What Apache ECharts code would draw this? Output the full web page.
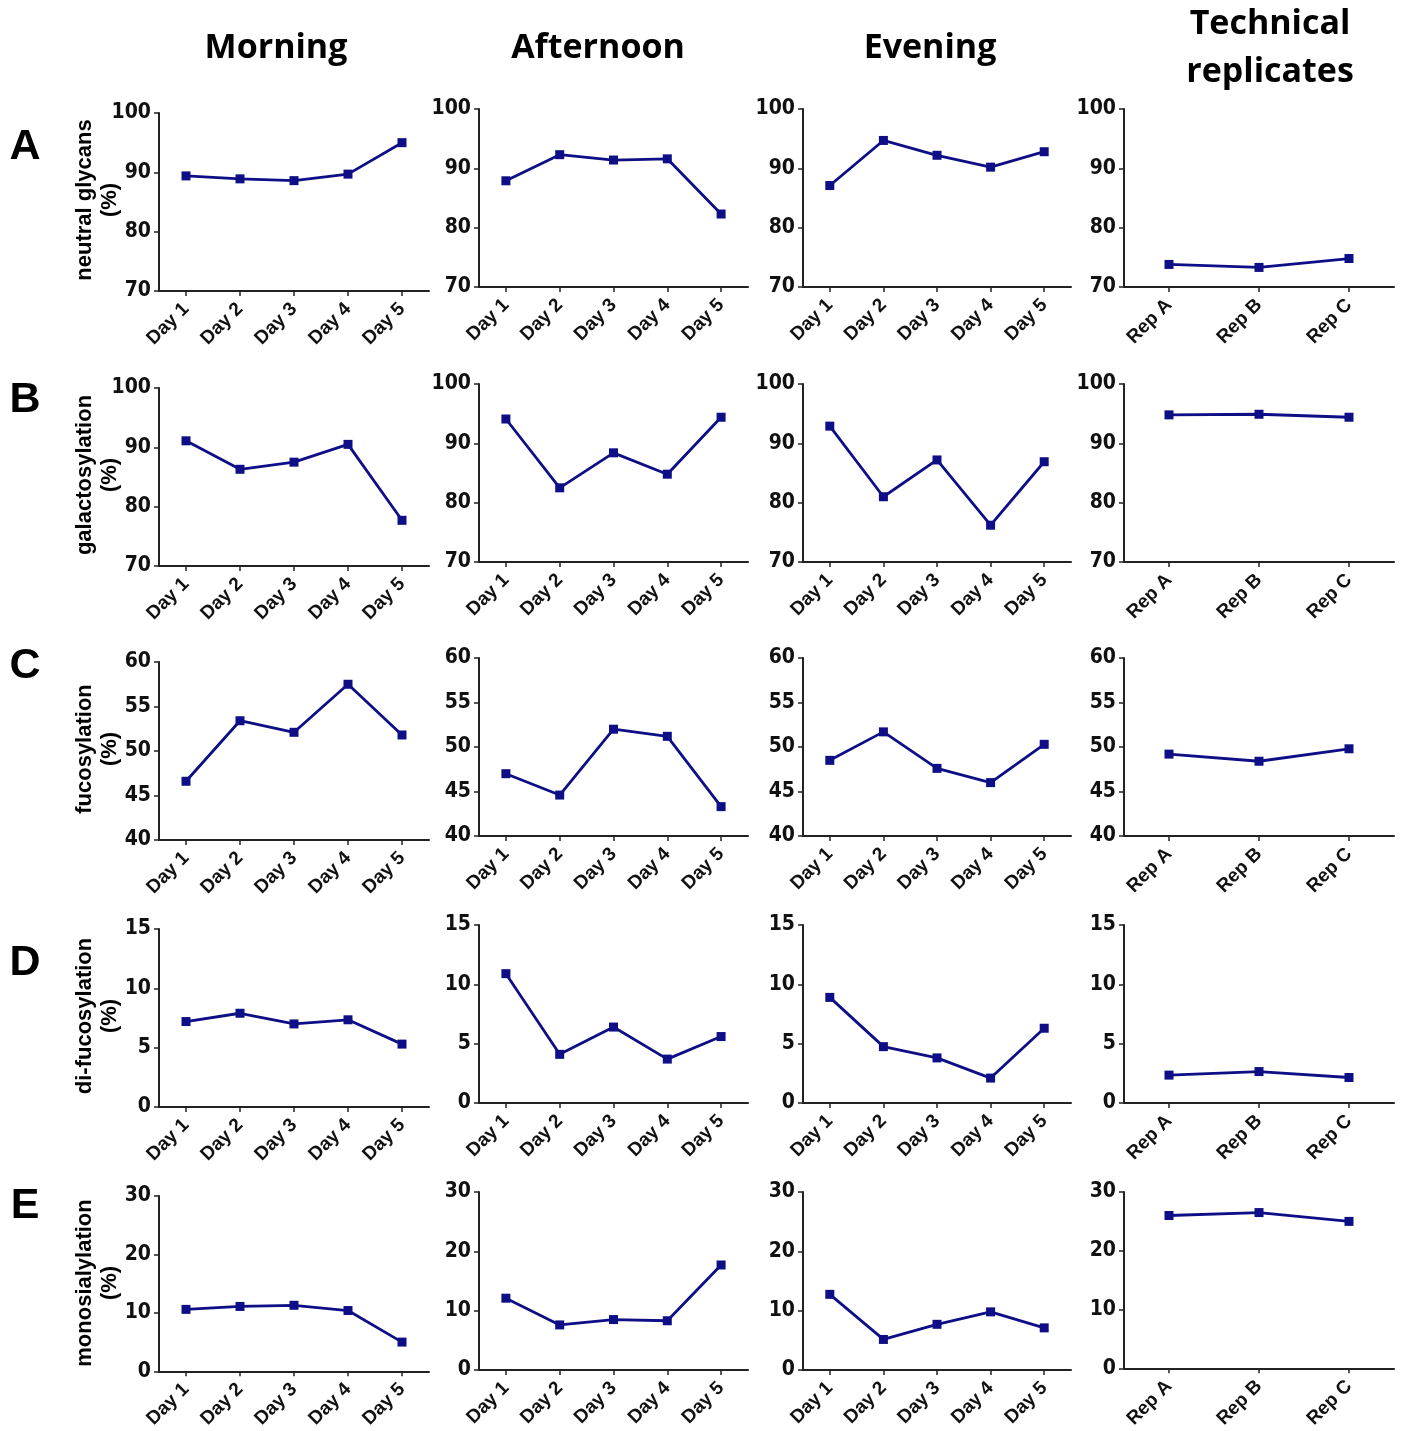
<!DOCTYPE html>
<html>
<head>
<meta charset="utf-8">
<script src="https://cdn.jsdelivr.net/npm/echarts@6/dist/echarts.min.js"></script>
<style>
  html, body { margin: 0; padding: 0; background: #fff; }
  #chart { width: 1403px; height: 1431px; }
</style>
</head>
<body>
<div id="chart"></div>
<script>
// categories
const days = ['Day 1', 'Day 2', 'Day 3', 'Day 4', 'Day 5']
const reps = ['Rep A', 'Rep B', 'Rep C']
const columnTitles = ['Morning', 'Afternoon', 'Evening', 'Technical\nreplicates']
const rowLetters = ['A', 'B', 'C', 'D', 'E']
const rowNames = ['neutral glycans', 'galactosylation', 'fucosylation', 'di-fucosylation', 'monosialylation']

// y axis ranges per row
const yMin = [70, 70, 40, 0, 0]
const yMax = [100, 100, 60, 15, 30]
const yStep = [10, 10, 5, 5, 10]

// A - neutral glycans (%)
const neutralMorning = [89.4, 88.9, 88.6, 89.7, 95.0]
const neutralAfternoon = [87.9, 92.3, 91.4, 91.6, 82.3]
const neutralEvening = [87.1, 94.7, 92.2, 90.2, 92.8]
const neutralReps = [73.8, 73.3, 74.8]

// B - galactosylation (%)
const galMorning = [91.1, 86.3, 87.5, 90.5, 77.7]
const galAfternoon = [94.1, 82.5, 88.4, 84.8, 94.4]
const galEvening = [92.9, 81.0, 87.2, 76.2, 86.9]
const galReps = [94.8, 94.9, 94.4]

// C - fucosylation (%)
const fucMorning = [46.6, 53.4, 52.1, 57.5, 51.8]
const fucAfternoon = [47.0, 44.6, 52.0, 51.2, 43.3]
const fucEvening = [48.5, 51.7, 47.6, 46.0, 50.3]
const fucReps = [49.2, 48.4, 49.8]

// D - di-fucosylation (%)
const difucMorning = [7.2, 7.9, 7.0, 7.35, 5.3]
const difucAfternoon = [10.9, 4.1, 6.4, 3.7, 5.6]
const difucEvening = [8.9, 4.75, 3.8, 2.1, 6.3]
const difucReps = [2.35, 2.65, 2.15]

// E - monosialylation (%)
const monoMorning = [10.6, 11.1, 11.3, 10.4, 5.0]
const monoAfternoon = [12.1, 7.6, 8.5, 8.3, 17.7]
const monoEvening = [12.75, 5.15, 7.7, 9.8, 7.1]
const monoReps = [26.0, 26.5, 25.0]

const rows = [
  [neutralMorning, neutralAfternoon, neutralEvening, neutralReps],
  [galMorning, galAfternoon, galEvening, galReps],
  [fucMorning, fucAfternoon, fucEvening, fucReps],
  [difucMorning, difucAfternoon, difucEvening, difucReps],
  [monoMorning, monoAfternoon, monoEvening, monoReps]
]

// layout (pixels)
const colX = [159, 479, 803, 1124]
const colW = [270, 269, 268, 270]
const plotH = 178
const rowTop = [109, 384, 658, 925, 1192]
const morningShift = 4
const titleX = [276, 598, 930, 1270]
const letterY = [147, 400, 666, 963, 1206]

const lineColor = '#0e0e86'
const axisColor = '#222'
const narrowFont = '"Liberation Sans Narrow", "DejaVu Sans Condensed", "Arial Narrow", sans-serif'
const labelFont = '"Liberation Sans", Arial, sans-serif'

const chart = echarts.init(document.getElementById('chart'))

const grid = []
const xAxis = []
const yAxis = []
const series = []
const graphic = []

rows.forEach((row, r) => {
  row.forEach((values, c) => {
    const idx = grid.length
    const top = rowTop[r] + (c === 0 ? morningShift : 0)
    grid.push({ left: colX[c], top: top, width: colW[c], height: plotH })
    xAxis.push({
      type: 'category',
      gridIndex: idx,
      data: c === 3 ? reps : days,
      boundaryGap: true,
      axisLine: { show: true, lineStyle: { color: axisColor, width: 2 } },
      axisTick: { show: true, alignWithLabel: true, length: 5, lineStyle: { color: axisColor, width: 1.5 } },
      axisLabel: {
        interval: 0,
        rotate: 45,
        margin: 15,
        color: '#111',
        fontFamily: labelFont,
        fontWeight: 'bold',
        fontSize: 19
      },
      splitLine: { show: false }
    })
    yAxis.push({
      type: 'value',
      gridIndex: idx,
      min: yMin[r],
      max: yMax[r],
      interval: yStep[r],
      axisLine: { show: true, lineStyle: { color: axisColor, width: 2 } },
      axisTick: { show: true, length: 5, lineStyle: { color: axisColor, width: 1.5 } },
      axisLabel: {
        margin: 8,
        color: '#111',
        fontFamily: narrowFont,
        fontWeight: 'bold',
        fontSize: 21
      },
      splitLine: { show: false }
    })
    series.push({
      type: 'line',
      xAxisIndex: idx,
      yAxisIndex: idx,
      data: values,
      symbol: 'rect',
      symbolSize: 9,
      lineStyle: { color: lineColor, width: 2.8 },
      itemStyle: { color: lineColor },
      animation: false
    })
  })

  // row letter
  graphic.push({
    type: 'text',
    x: 25,
    y: letterY[r],
    style: {
      text: rowLetters[r],
      fill: '#000',
      font: 'bold 43px ' + labelFont,
      align: 'center',
      verticalAlign: 'middle'
    }
  })
  // y axis name, rotated
  graphic.push({
    type: 'text',
    x: 97,
    y: rowTop[r] + morningShift + plotH / 2 - 2,
    rotation: Math.PI / 2,
    style: {
      text: rowNames[r] + '\n(%)',
      fill: '#000',
      font: 'bold 22px ' + labelFont,
      lineHeight: 25,
      align: 'center',
      verticalAlign: 'middle'
    }
  })
})

// column titles
columnTitles.forEach((t, c) => {
  graphic.push({
    type: 'text',
    x: titleX[c],
    y: 48,
    style: {
      text: t,
      fill: '#000',
      font: 'bold 34px "Open Sans", Lato, sans-serif',
      lineHeight: 48,
      align: 'center',
      verticalAlign: 'middle'
    }
  })
})

chart.setOption({
  animation: false,
  backgroundColor: '#fff',
  grid: grid,
  xAxis: xAxis,
  yAxis: yAxis,
  series: series,
  graphic: graphic
})
</script>
</body>
</html>
